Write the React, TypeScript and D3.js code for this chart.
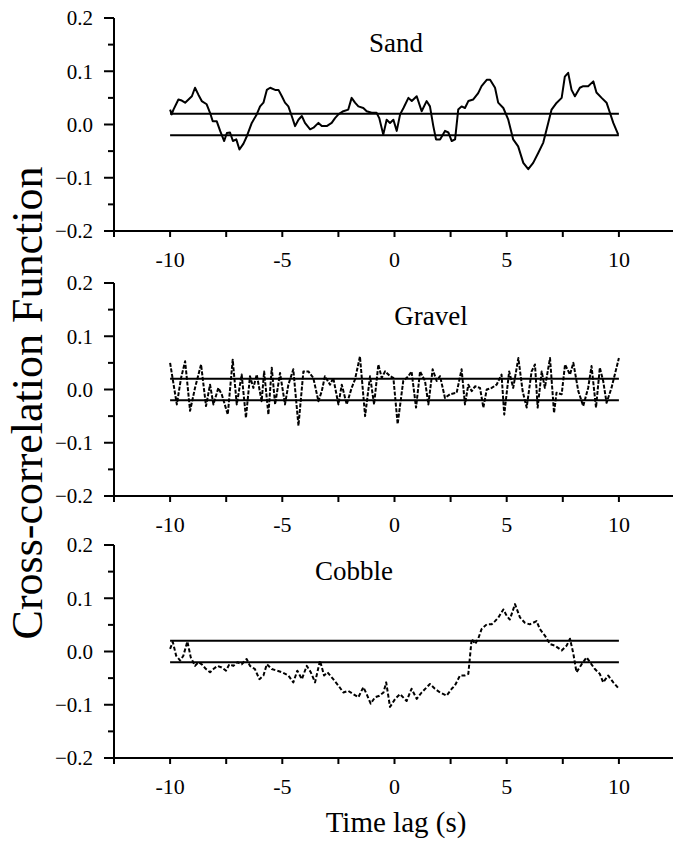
import React from "react";
import * as d3 from "d3";

// ---------- data ----------
const sandLag = [-10.0,-9.93,-9.85,-9.63,-9.48,-9.33,-9.18,-9.03,-8.89,-8.74,-8.59,-8.37,-8.22,-8.1,-7.92,-7.77,-7.59,-7.47,-7.33,-7.2,-7.05,-6.91,-6.73,-6.58,-6.36,-6.14,-5.99,-5.84,-5.69,-5.54,-5.32,-5.17,-5.02,-4.88,-4.73,-4.58,-4.43,-4.28,-4.13,-3.99,-3.76,-3.61,-3.39,-3.24,-3.02,-2.8,-2.65,-2.5,-2.28,-2.06,-1.91,-1.76,-1.61,-1.39,-1.24,-1.02,-0.8,-0.68,-0.5,-0.35,-0.2,-0.05,0.1,0.25,0.4,0.62,0.77,0.99,1.21,1.43,1.58,1.73,1.85,2.03,2.25,2.4,2.55,2.7,2.84,2.99,3.14,3.29,3.51,3.73,3.88,4.11,4.26,4.48,4.62,4.85,5.07,5.29,5.51,5.74,5.96,6.18,6.41,6.63,6.85,7.0,7.23,7.45,7.59,7.74,7.89,8.04,8.26,8.41,8.63,8.86,9.0,9.23,9.45,9.6,9.75,9.97];
const sandValue = [0.028,0.019,0.028,0.047,0.045,0.041,0.047,0.053,0.069,0.056,0.044,0.038,0.022,0.006,0.006,-0.012,-0.031,-0.016,-0.015,-0.031,-0.028,-0.047,-0.036,-0.022,0.003,0.019,0.034,0.041,0.065,0.069,0.065,0.065,0.053,0.041,0.034,0.016,-0.003,0.009,0.016,0.003,-0.009,-0.006,0.003,-0.003,-0.003,0.003,0.012,0.019,0.025,0.028,0.05,0.041,0.034,0.031,0.025,0.022,0.022,0.012,-0.019,0.009,0.003,0.009,-0.012,0.019,0.031,0.05,0.044,0.053,0.025,0.044,0.034,-0.003,-0.028,-0.028,-0.012,-0.015,-0.031,-0.028,0.028,0.034,0.031,0.044,0.047,0.059,0.072,0.084,0.084,0.069,0.041,0.031,0.009,-0.028,-0.041,-0.072,-0.084,-0.072,-0.053,-0.034,0.003,0.028,0.041,0.05,0.09,0.097,0.065,0.053,0.069,0.072,0.072,0.081,0.06,0.05,0.041,0.022,0.003,-0.019];

const gravelLag = [-10.0,-9.82,-9.7,-9.51,-9.33,-9.11,-8.89,-8.62,-8.4,-8.22,-8.07,-7.85,-7.7,-7.43,-7.21,-7.03,-6.81,-6.62,-6.44,-6.29,-6.14,-5.92,-5.81,-5.62,-5.47,-5.32,-5.1,-4.88,-4.73,-4.51,-4.28,-4.06,-3.84,-3.62,-3.39,-3.24,-3.1,-2.87,-2.73,-2.5,-2.35,-2.13,-1.91,-1.76,-1.54,-1.31,-1.09,-0.91,-0.72,-0.57,-0.42,-0.2,-0.05,0.14,0.39,0.62,0.76,0.96,1.14,1.36,1.51,1.7,1.88,2.03,2.25,2.47,2.77,2.99,3.14,3.29,3.44,3.59,3.81,3.96,4.11,4.33,4.55,4.77,4.89,5.11,5.29,5.52,5.71,5.89,6.11,6.26,6.38,6.56,6.7,6.93,7.11,7.22,7.45,7.6,7.82,7.97,8.19,8.41,8.63,8.78,8.98,9.15,9.3,9.45,9.67,10.0];
const gravelValue = [0.05,0.003,-0.028,0.022,0.053,-0.04,0.003,0.047,-0.031,0.009,-0.028,0.003,-0.009,-0.047,0.056,-0.028,0.028,-0.053,0.025,0.003,0.028,-0.022,0.034,-0.047,0.041,-0.028,0.031,-0.028,0.009,0.038,-0.068,0.034,0.034,0.022,-0.022,-0.003,0.025,0.009,0.022,-0.028,0.009,-0.028,0.003,0.019,0.062,-0.05,0.025,-0.028,0.047,0.022,0.034,0.025,0.022,-0.065,0.016,0.025,0.034,-0.034,0.034,0.016,-0.028,0.038,0.016,0.025,-0.016,-0.009,-0.006,0.038,-0.028,0.009,-0.003,0.006,0.003,-0.034,0.0,0.003,0.009,0.028,-0.047,0.034,0.003,0.059,-0.003,-0.034,0.034,0.047,-0.034,0.034,0.003,0.059,-0.044,-0.006,-0.009,0.047,0.028,0.05,-0.003,-0.031,0.003,0.044,-0.034,0.041,0.016,-0.025,0.003,0.059];

const cobbleLag = [-10.0,-9.88,-9.73,-9.55,-9.41,-9.23,-9.08,-8.89,-8.74,-8.59,-8.4,-8.22,-8.07,-7.89,-7.7,-7.51,-7.36,-7.18,-7.0,-6.81,-6.59,-6.44,-6.22,-6.02,-5.84,-5.69,-5.47,-5.24,-5.02,-4.73,-4.51,-4.33,-4.13,-3.91,-3.73,-3.54,-3.32,-3.14,-2.99,-2.73,-2.5,-2.28,-2.06,-1.84,-1.61,-1.39,-1.24,-1.06,-0.87,-0.67,-0.49,-0.37,-0.2,0.03,0.245,0.54,0.76,0.99,1.21,1.58,1.8,2.03,2.32,2.55,2.69,2.92,3.14,3.29,3.44,3.59,3.73,3.88,4.11,4.33,4.48,4.63,4.85,5.0,5.14,5.37,5.59,5.81,6.03,6.33,6.48,6.7,6.93,7.15,7.45,7.67,7.82,7.97,8.11,8.34,8.56,8.71,8.93,9.15,9.3,9.52,9.75,10.0];
const cobbleValue = [0.005,0.018,-0.008,-0.017,-0.008,0.019,-0.011,-0.027,-0.02,-0.024,-0.033,-0.039,-0.033,-0.027,-0.03,-0.036,-0.024,-0.027,-0.02,-0.024,-0.014,-0.027,-0.033,-0.052,-0.045,-0.024,-0.033,-0.036,-0.039,-0.045,-0.058,-0.036,-0.052,-0.027,-0.039,-0.058,-0.017,-0.045,-0.039,-0.052,-0.064,-0.077,-0.074,-0.08,-0.086,-0.067,-0.08,-0.098,-0.086,-0.083,-0.077,-0.058,-0.104,-0.089,-0.08,-0.093,-0.07,-0.089,-0.077,-0.061,-0.07,-0.077,-0.083,-0.07,-0.064,-0.045,-0.045,-0.042,0.024,0.014,0.024,0.042,0.051,0.051,0.057,0.064,0.079,0.067,0.06,0.089,0.064,0.054,0.051,0.057,0.042,0.03,0.014,0.011,0.002,0.011,0.024,-0.004,-0.039,-0.024,-0.011,-0.02,-0.033,-0.042,-0.058,-0.045,-0.058,-0.07];

const panelNames = ["Sand", "Gravel", "Cobble"];
const confidenceLimits = [0.02, -0.02];
const yMajorTicks = [-0.2, -0.1, 0.0, 0.1, 0.2];
const yMinorTicks = [-0.15, -0.05, 0.05, 0.15];
const xTickValues = [-12.5, -10, -7.5, -5, -2.5, 0, 2.5, 5, 7.5, 10];
const xLabelTicks = [-10, -5, 0, 5, 10];
const xAxisTitle = "Time lag (s)";
const yAxisTitle = "Cross-correlation Function";

// ---------- layout ----------
const W = 673, H = 853;
const FONT = "'Liberation Serif', 'Times New Roman', serif";
const panelTops = [18, 283, 545];
const panelHeight = 213;
const titlePos = [
  { x: 396, y: 52 },
  { x: 431, y: 325 },
  { x: 354, y: 580 },
];
const dashes = [null, "4,1.6", "4,2.2"];

const x = d3.scaleLinear().domain([-12.5, 12.5]).range([114, 675]);

export default function App() {
  const series = [
    { lag: sandLag, value: sandValue },
    { lag: gravelLag, value: gravelValue },
    { lag: cobbleLag, value: cobbleValue },
  ];
  return (
    <svg
      width={W}
      height={H}
      style={{ position: "absolute", left: 0, top: 0, background: "#fff" }}
      fontFamily={FONT}
    >
      <rect x={0} y={0} width={W} height={H} fill="#fff" />
      {series.map((s, i) => {
        const top = panelTops[i];
        const bottom = top + panelHeight;
        const y = d3.scaleLinear().domain([-0.2, 0.2]).range([bottom, top]);
        const pts: [number, number][] = s.lag.map((t, k) => [t, s.value[k]]);
        const line = d3
          .line<[number, number]>()
          .x((d) => x(d[0]))
          .y((d) => y(d[1]));
        return (
          <g key={i}>
            {confidenceLimits.map((c) => (
              <line
                key={c}
                x1={x(-10)}
                x2={x(10)}
                y1={y(c)}
                y2={y(c)}
                stroke="#000"
                strokeWidth={2}
              />
            ))}
            <path
              d={line(pts) || ""}
              fill="none"
              stroke="#000"
              strokeWidth={dashes[i] ? 2 : 2}
              strokeDasharray={dashes[i] || undefined}
              strokeLinejoin="round"
            />
            <line x1={x(-12.5)} x2={x(-12.5)} y1={top} y2={bottom + 6} stroke="#000" strokeWidth={2} />
            {yMajorTicks.map((v) => (
              <g key={v}>
                <line x1={x(-12.5) - 10} x2={x(-12.5)} y1={y(v)} y2={y(v)} stroke="#000" strokeWidth={2} />
                <text
                  x={93}
                  y={y(v)}
                  dy="0.35em"
                  textAnchor="end"
                  fontSize={21}
                  fill="#000"
                >
                  {v === 0 ? "0.0" : d3.format(".1f")(v)}
                </text>
              </g>
            ))}
            {yMinorTicks.map((v) => (
              <line key={v} x1={x(-12.5) - 6} x2={x(-12.5)} y1={y(v)} y2={y(v)} stroke="#000" strokeWidth={2} />
            ))}
            <line x1={x(-12.5) - 1} x2={x(12.5)} y1={bottom} y2={bottom} stroke="#000" strokeWidth={2} />
            {xTickValues.map((t) => (
              <line key={t} x1={x(t)} x2={x(t)} y1={bottom} y2={bottom + 6} stroke="#000" strokeWidth={2} />
            ))}
            {xLabelTicks.map((t) => (
              <text key={t} x={x(t)} y={bottom + 36} textAnchor="middle" fontSize={22} fill="#000">
                {t}
              </text>
            ))}
            <text
              x={titlePos[i].x}
              y={titlePos[i].y}
              textAnchor="middle"
              fontSize={27}
              fill="#000"
            >
              {panelNames[i]}
            </text>
          </g>
        );
      })}
      <text x={396} y={832} textAnchor="middle" fontSize={29} fill="#000">
        {xAxisTitle}
      </text>
      <text
        transform="translate(42,403) rotate(-90)"
        textAnchor="middle"
        fontSize={44}
        fill="#000"
      >
        {yAxisTitle}
      </text>
    </svg>
  );
}
